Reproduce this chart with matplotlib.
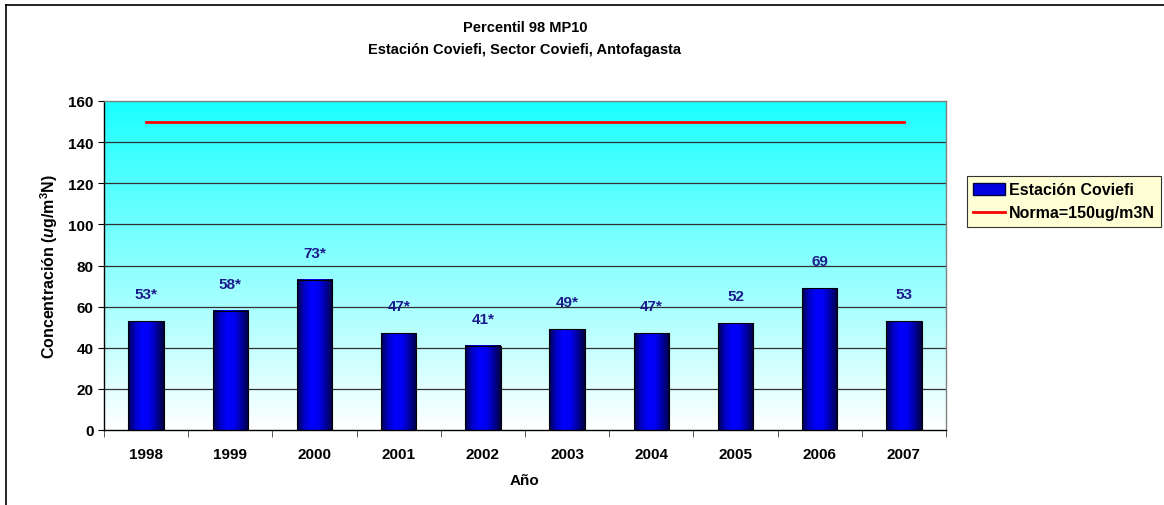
import numpy as np
import matplotlib
matplotlib.use("Agg")
from matplotlib import pyplot as plt
from matplotlib.colors import LinearSegmentedColormap
from matplotlib.patches import Rectangle
from matplotlib.lines import Line2D

plt.rcParams['font.family'] = ['Liberation Sans', 'DejaVu Sans']
plt.rcParams['font.weight'] = 'bold'
plt.rcParams['mathtext.fontset'] = 'custom'
plt.rcParams['mathtext.rm'] = 'Liberation Sans:bold'
plt.rcParams['mathtext.it'] = 'Liberation Sans:bold:italic'
plt.rcParams['mathtext.bf'] = 'Liberation Sans:bold'

# datos
anios = ['1998', '1999', '2000', '2001', '2002', '2003', '2004', '2005', '2006', '2007']
p98 = [53, 58, 73, 47, 41, 49, 47, 52, 69, 53]
preliminar = [True, True, True, True, True, True, True, False, False, False]
norma = 150

W, H = 1164, 506
fig = plt.figure(figsize=(W / 100, H / 100), dpi=100)
fig.patch.set_facecolor('white')
ax = fig.add_axes([104 / W, 1 - 431 / H, (946 - 104) / W, (431 - 102) / H])

x = np.arange(len(anios))
ax.set_xlim(-0.5, len(anios) - 0.5)
ax.set_ylim(0, 160)

# fondo degradado cyan -> blanco
fondo = LinearSegmentedColormap.from_list('fondo', ['#ffffff', '#1affff'])
ax.imshow(np.linspace(0, 1, 256).reshape(-1, 1), cmap=fondo, origin='lower',
          extent=[-0.5, len(anios) - 0.5, 0, 160], aspect='auto', zorder=0)

for yv in range(20, 160, 20):
    ax.axhline(yv, color='#303030', lw=0.9, zorder=1)

barras = ax.bar(x, p98, width=0.42, color='none', edgecolor='black', lw=0.8, zorder=3)

# degradado horizontal de cada barra
cbar = LinearSegmentedColormap.from_list('barra', ['#000050', '#0000c8', '#0000ff', '#0000f0', '#0000a0', '#000040'])
grad = np.linspace(0, 1, 64).reshape(1, -1)
for b in barras:
    ax.imshow(grad, cmap=cbar, extent=[b.get_x(), b.get_x() + b.get_width(), 0, b.get_height()],
              aspect='auto', zorder=2)

ax.plot([x[0], x[-1]], [norma, norma], color='#ff0000', lw=2, zorder=4)

for xi, v, p in zip(x, p98, preliminar):
    ax.annotate(f'{v}*' if p else f'{v}', (xi, v), xytext=(0, 19.5), textcoords='offset points',
                ha='center', va='center', color='#1c1c8c', fontsize=11, fontweight='bold')

ax.set_yticks(range(0, 161, 20))
ax.tick_params(axis='y', length=4, labelsize=11, direction='out')
ax.set_xticks(x)
ax.set_xticklabels(anios)
ax.set_xticks(np.arange(-0.5, len(anios)), minor=True)
ax.tick_params(axis='x', which='major', length=0, labelsize=11, pad=12)
ax.tick_params(axis='x', which='minor', length=5, color='#404040')
for lab in ax.get_xticklabels() + ax.get_yticklabels():
    lab.set_fontweight('bold')

ax.spines['left'].set_color('black')
ax.spines['bottom'].set_color('black')
ax.spines['top'].set_color('#808080')
ax.spines['right'].set_color('#808080')
for s in ax.spines.values():
    s.set_linewidth(1)
    s.set_zorder(5)

ax.set_xlabel('Año', fontsize=11, fontweight='bold', labelpad=9)
ax.set_ylabel(r'Concentración ($\mathit{u}$g/m$^{\mathrm{3}}$N)', fontsize=11.5, fontweight='bold', labelpad=6)

fig.text(525 / W, 1 - 28 / H, 'Percentil 98 MP10', ha='center', va='center', fontsize=10.5, fontweight='bold')
fig.text(525 / W, 1 - 50 / H, 'Estación Coviefi, Sector Coviefi, Antofagasta', ha='center', va='center',
         fontsize=10.5, fontweight='bold')

handles = [Rectangle((0, 0), 1, 1, facecolor='#0000e0', edgecolor='#000040'),
           Line2D([], [], color='#ff0000', lw=2)]
leg = fig.legend(handles, ['Estación Coviefi', 'Norma=150ug/m3N'], loc='upper left',
                 bbox_to_anchor=(967 / W, 1 - 177 / H), frameon=True, fancybox=False,
                 prop={'weight': 'bold', 'size': 11.5}, handlelength=2.0, handleheight=0.8,
                 handletextpad=0.2, borderpad=0.4, labelspacing=0.5, borderaxespad=0)
leg.get_frame().set_facecolor('#ffffcc')
leg.get_frame().set_edgecolor('black')
leg.get_frame().set_linewidth(0.8)

# borde del grafico (izquierda y arriba)
fig.add_artist(Line2D([5.5 / W, 5.5 / W], [0, 1 - 5.5 / H], transform=fig.transFigure, color='black', lw=1.2))
fig.add_artist(Line2D([5.5 / W, 1], [1 - 5.5 / H, 1 - 5.5 / H], transform=fig.transFigure, color='black', lw=1.2))

fig.savefig('out.png', dpi=100)
